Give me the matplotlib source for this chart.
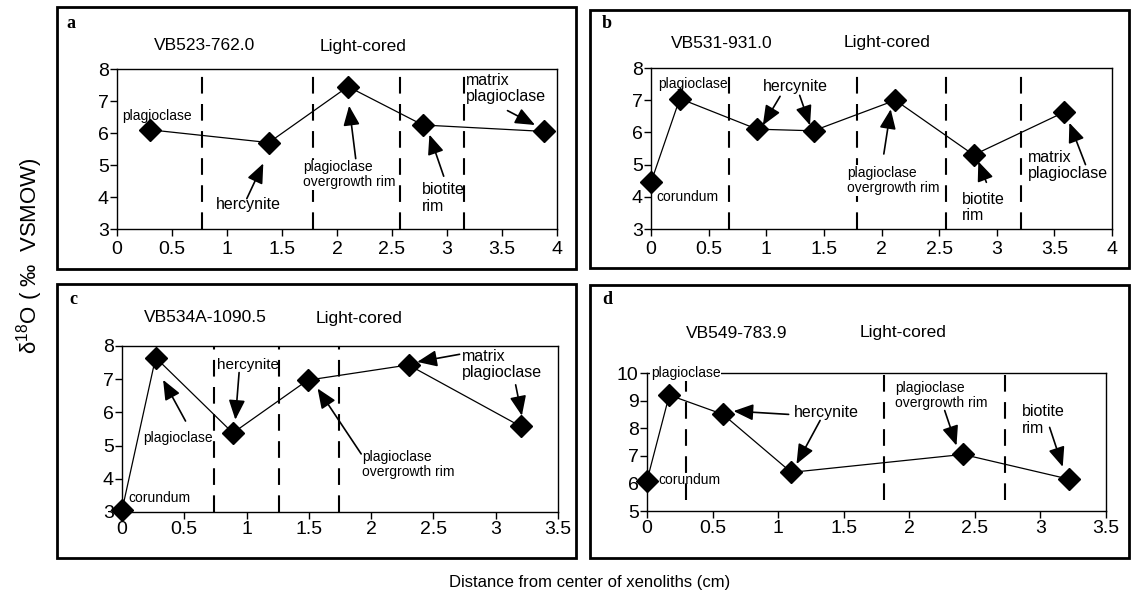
import matplotlib
matplotlib.use('Agg')
import matplotlib.pyplot as plt
from matplotlib.patches import Rectangle

plt.rcParams['font.family'] = ['Liberation Sans', 'DejaVu Sans']
plt.rcParams['mathtext.fontset'] = 'custom'
plt.rcParams['mathtext.rm'] = 'Liberation Sans'
plt.rcParams['mathtext.it'] = 'Liberation Sans:italic'

# ---------------- data ----------------
a_x = [0.30, 1.38, 2.10, 2.78, 3.88]
a_y = [6.10, 5.70, 7.45, 6.25, 6.05]
a_bounds = [0.77, 1.78, 2.57, 3.15]

b_x = [0.0, 0.25, 0.92, 1.41, 2.12, 2.80, 3.58]
b_y = [4.45, 7.05, 6.10, 6.05, 7.00, 5.30, 6.62]
b_bounds = [0.68, 1.79, 2.56, 3.21]

c_x = [0.0, 0.27, 0.89, 1.49, 2.30, 3.20]
c_y = [3.05, 7.65, 5.38, 6.97, 7.43, 5.58]
c_bounds = [0.74, 1.26, 1.74]

d_x = [0.0, 0.17, 0.58, 1.10, 2.41, 3.22]
d_y = [6.10, 9.20, 8.50, 6.40, 7.05, 6.15]
d_bounds = [0.30, 1.81, 2.73]

samples = ['VB523-762.0', 'VB531-931.0', 'VB534A-1090.5', 'VB549-783.9']
letters = ['a', 'b', 'c', 'd']
group = 'Light-cored'
xlabel = 'Distance from center of xenoliths (cm)'
ylabel = 'δ$^{18}$O ( ‰  VSMOW)'

# ---------------- layout ----------------
W, H = 1131, 598
fig = plt.figure(figsize=(W / 100, H / 100), dpi=100)


def rect(x0, x1, ytop, ybot):
    return [x0 / W, 1 - ybot / H, (x1 - x0) / W, (ybot - ytop) / H]


def ftext(x, y, s, **kw):
    fig.text(x / W, 1 - y / H, s, **kw)


boxes = [(57, 7, 576, 269), (590, 10, 1129, 268), (57, 284, 576, 558), (590, 285, 1129, 558)]
for (x0, y0, x1, y1) in boxes:
    fig.add_artist(Rectangle((x0 / W, 1 - y1 / H), (x1 - x0) / W, (y1 - y0) / H,
                             transform=fig.transFigure, fill=False, lw=2.0, ec='black'))

axes_rects = [rect(117, 557, 69, 229), rect(651, 1112, 68, 229),
              rect(122, 558, 346, 512), rect(647, 1106, 373, 511)]
title_pos = [((205, 46), (363, 46)), ((722, 43), (887, 43)),
             ((205, 318), (359, 318)), ((737, 333), (903, 333))]
letter_pos = [(71, 24), (607, 24), (73, 300), (607, 300)]
xpads = [3.5, 3.5, 1.5, 1.5]

panels = [
    dict(x=a_x, y=a_y, bounds=a_bounds, xlim=(0, 4), ylim=(3, 8),
         xticks=[0, 0.5, 1, 1.5, 2, 2.5, 3, 3.5, 4], yticks=[3, 4, 5, 6, 7, 8], dash=(3, 8)),
    dict(x=b_x, y=b_y, bounds=b_bounds, xlim=(0, 4), ylim=(3, 8),
         xticks=[0, 0.5, 1, 1.5, 2, 2.5, 3, 3.5, 4], yticks=[3, 4, 5, 6, 7, 8], dash=(3, 8)),
    dict(x=c_x, y=c_y, bounds=c_bounds, xlim=(0, 3.5), ylim=(3, 8),
         xticks=[0, 0.5, 1, 1.5, 2, 2.5, 3, 3.5], yticks=[3, 4, 5, 6, 7, 8], dash=(3, 8)),
    dict(x=d_x, y=d_y, bounds=d_bounds, xlim=(0, 3.5), ylim=(5, 10),
         xticks=[0, 0.5, 1, 1.5, 2, 2.5, 3, 3.5], yticks=[5, 6, 7, 8, 9, 10], dash=(5.4, 10)),
]

SMALL, BIG = 10, 11.5
# annotations: (text, x, y, size, white background)
texts = [
    [('plagioclase', 0.05, 6.52, SMALL, False), ('hercynite', 0.90, 3.77, BIG, False),
     ('plagioclase\novergrowth rim', 1.69, 4.69, SMALL, True), ('biotite\nrim', 2.77, 3.97, BIG, False),
     ('matrix\nplagioclase', 3.17, 7.39, BIG, False)],
    [('plagioclase', 0.06, 7.5, SMALL, False), ('corundum', 0.05, 4.0, SMALL, False),
     ('hercynite', 0.97, 7.42, BIG, False), ('plagioclase\novergrowth rim', 1.70, 4.51, SMALL, True),
     ('biotite\nrim', 2.70, 3.68, BIG, False), ('matrix\nplagioclase', 3.27, 4.96, BIG, False)],
    [('corundum', 0.05, 3.42, SMALL, False), ('plagioclase', 0.17, 5.24, SMALL, False),
     ('hercynite', 0.76, 7.43, 11, False), ('plagioclase\novergrowth rim', 1.93, 4.42, SMALL, False),
     ('matrix\nplagioclase', 2.73, 7.44, BIG, False)],
    [('plagioclase', 0.03, 10.0, SMALL, True), ('corundum', 0.09, 6.13, SMALL, False),
     ('hercynite', 1.12, 8.58, BIG, False), ('plagioclase\novergrowth rim', 1.89, 9.18, SMALL, False),
     ('biotite\nrim', 2.86, 8.3, BIG, False)],
]
# arrows: (tail, tip)
arrows = [
    [((1.18, 3.95), (1.33, 5.05)), ((2.17, 5.2), (2.11, 6.85)),
     ((2.97, 4.65), (2.84, 5.95)), ((3.55, 6.7), (3.80, 6.25))],
    [((1.12, 7.12), (0.97, 6.22)), ((1.29, 7.15), (1.38, 6.22)),
     ((2.02, 5.33), (2.08, 6.72)), ((2.91, 4.45), (2.84, 5.1)), ((3.77, 5.0), (3.63, 6.3))],
    [((0.51, 5.74), (0.33, 6.98)), ((0.94, 7.2), (0.91, 5.78)), ((1.92, 4.75), (1.57, 6.72)),
     ((2.71, 7.75), (2.37, 7.52)), ((3.16, 6.83), (3.21, 5.9))],
    [((1.08, 8.5), (0.66, 8.62)), ((1.32, 8.28), (1.14, 6.7)),
     ((2.27, 8.64), (2.36, 7.37)), ((3.07, 8.03), (3.17, 6.6))],
]

for i, p in enumerate(panels):
    ax = fig.add_axes(axes_rects[i])
    ax.set_xlim(*p['xlim'])
    ax.set_ylim(*p['ylim'])
    ax.set_xticks(p['xticks'])
    ax.set_xticklabels([f'{t:g}' for t in p['xticks']])
    ax.set_yticks(p['yticks'])
    ax.tick_params(direction='out', length=5, width=1, labelsize=14,
                   top=False, right=False)
    ax.tick_params(axis='y', pad=1)
    ax.tick_params(axis='x', pad=xpads[i])
    for s in ax.spines.values():
        s.set_linewidth(1.0)
    for b in p['bounds']:
        ax.plot([b, b], list(p['dash']), color='black', lw=1.5,
                linestyle=(0, (8, 5)), zorder=1)
    ax.plot(p['x'], p['y'], color='black', lw=0.9, zorder=3)
    ax.plot(p['x'], p['y'], linestyle='none', marker='D', ms=11.5,
            color='black', zorder=4, clip_on=False)
    for (s, tx, ty, fs, wb) in texts[i]:
        kw = dict(ha='left', va='center', fontsize=fs, linespacing=1.1, zorder=5, clip_on=False)
        if wb:
            kw['bbox'] = dict(facecolor='white', edgecolor='none', pad=0.5)
        ax.text(tx, ty, s, **kw)
    for (tail, tip) in arrows[i]:
        ax.annotate('', xy=tip, xytext=tail,
                    arrowprops=dict(arrowstyle='-|>,head_length=0.6,head_width=0.25',
                                    mutation_scale=20, lw=1.2, color='black',
                                    shrinkA=0, shrinkB=0), zorder=6)
    (t1, t2) = title_pos[i]
    ftext(*t1, samples[i], ha='center', va='center', fontsize=12.5)
    ftext(*t2, group, ha='center', va='center', fontsize=12.5)
    ftext(*letter_pos[i], letters[i], ha='center', va='center', fontsize=13,
          fontweight='bold', family='Liberation Serif')

ftext(30, 256, ylabel, rotation=90, ha='center', va='center', fontsize=16)
ftext(590, 583, xlabel, ha='center', va='center', fontsize=12)

fig.savefig('out.png', dpi=100)
